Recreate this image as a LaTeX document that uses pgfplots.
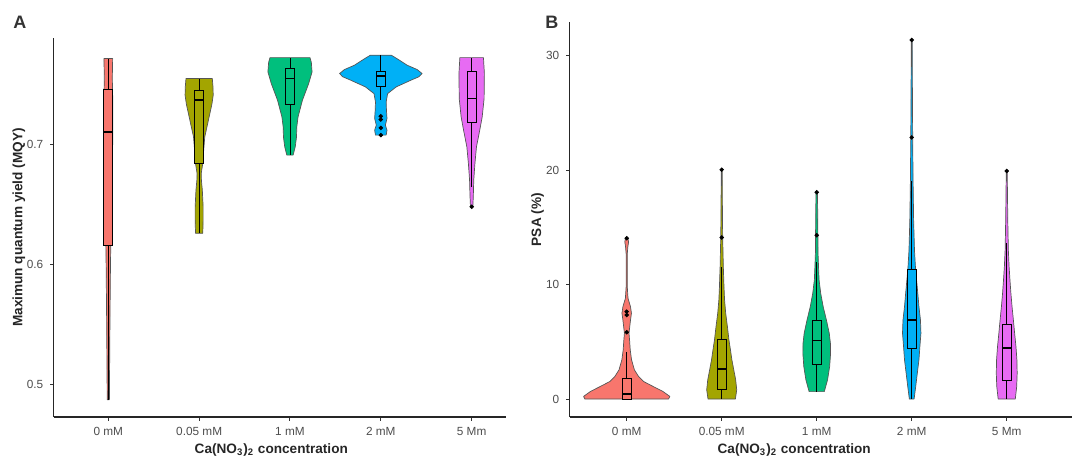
\documentclass[border=0pt]{standalone}
\usepackage{fontspec}
\setmainfont{Liberation Sans}
\usepackage{pgfplots}
\usepackage{pgfplotstable}
\pgfplotsset{compat=1.18}
\usepgfplotslibrary{statistics}

\definecolor{c1}{HTML}{F8766D}
\definecolor{c2}{HTML}{A3A500}
\definecolor{c3}{HTML}{00BF7D}
\definecolor{c4}{HTML}{00B0F6}
\definecolor{c5}{HTML}{E76BF3}
\definecolor{tickgray}{HTML}{4D4D4D}
\definecolor{vline}{HTML}{555555}

% violin outlines, right side up then left side down: y value, offset from centre
\pgfplotstableread{
y d
0.4876 0.012
0.52 0.015
0.56 0.019
0.60 0.024
0.62 0.028
0.65 0.034
0.68 0.042
0.70 0.048
0.72 0.050
0.74 0.048
0.755 0.044
0.7711 0.048
0.7711 -0.048
0.755 -0.044
0.74 -0.048
0.72 -0.050
0.70 -0.048
0.68 -0.042
0.65 -0.034
0.62 -0.028
0.60 -0.024
0.56 -0.019
0.52 -0.015
0.4876 -0.012
0.4876 0.012
}\vAa
\pgfplotstableread{
y d
0.6259 0.040
0.6369 0.044
0.648 0.044
0.6618 0.035
0.6700 0.025
0.6757 0.023
0.684 0.040
0.695 0.050
0.7061 0.062
0.715 0.088
0.7227 0.110
0.733 0.140
0.7407 0.155
0.748 0.152
0.7545 0.145
0.7545 -0.145
0.748 -0.152
0.7407 -0.155
0.733 -0.140
0.7227 -0.110
0.715 -0.088
0.7061 -0.062
0.695 -0.050
0.684 -0.040
0.6757 -0.023
0.6700 -0.025
0.6618 -0.035
0.648 -0.044
0.6369 -0.044
0.6259 -0.040
0.6259 0.040
}\vAb
\pgfplotstableread{
y d
0.6909 0.035
0.6940 0.045
0.6978 0.058
0.7061 0.072
0.7144 0.075
0.7227 0.089
0.7365 0.137
0.7504 0.206
0.7600 0.243
0.7680 0.235
0.7719 0.220
0.7719 -0.220
0.7680 -0.235
0.7600 -0.243
0.7504 -0.206
0.7365 -0.137
0.7227 -0.089
0.7144 -0.075
0.7061 -0.072
0.6978 -0.058
0.6940 -0.045
0.6909 -0.035
0.6909 0.035
}\vAc
\pgfplotstableread{
y d
0.7075 0.059
0.7116 0.068
0.7158 0.050
0.7213 0.068
0.7282 0.062
0.7351 0.059
0.7420 0.075
0.7476 0.170
0.7531 0.330
0.7560 0.420
0.7587 0.454
0.7620 0.400
0.7656 0.290
0.7700 0.200
0.7739 0.116
0.7739 -0.116
0.7700 -0.200
0.7656 -0.290
0.7620 -0.400
0.7587 -0.454
0.7560 -0.420
0.7531 -0.330
0.7476 -0.170
0.7420 -0.075
0.7351 -0.059
0.7282 -0.062
0.7213 -0.068
0.7158 -0.050
0.7116 -0.068
0.7075 -0.059
0.7075 0.059
}\vAd
\pgfplotstableread{
y d
0.648 0.013
0.6563 0.018
0.6701 0.023
0.684 0.036
0.6978 0.053
0.7116 0.089
0.7227 0.116
0.7379 0.137
0.7587 0.140
0.7719 0.130
0.7719 -0.130
0.7587 -0.140
0.7379 -0.137
0.7227 -0.116
0.7116 -0.089
0.6978 -0.053
0.684 -0.036
0.6701 -0.023
0.6563 -0.018
0.648 -0.013
0.648 0.013
}\vAe

\pgfplotstableread{
y d
0.00 0.440
0.23 0.454
0.67 0.380
1.10 0.278
1.54 0.176
1.97 0.125
2.55 0.081
3.43 0.051
4.30 0.037
5.17 0.030
5.75 0.024
6.90 0.040
7.50 0.050
8.07 0.040
8.80 0.014
9.80 0.006
12.70 0.006
13.30 0.012
13.74 0.020
14.06 0.012
14.06 -0.012
13.74 -0.020
13.30 -0.012
12.70 -0.006
9.80 -0.006
8.80 -0.014
8.07 -0.040
7.50 -0.050
6.90 -0.040
5.75 -0.024
5.17 -0.030
4.30 -0.037
3.43 -0.051
2.55 -0.081
1.97 -0.125
1.54 -0.176
1.10 -0.278
0.67 -0.380
0.23 -0.454
0.00 -0.440
0.00 0.440
}\vBa
\pgfplotstableread{
y d
0.00 0.144
0.81 0.158
1.68 0.147
2.55 0.127
3.43 0.107
4.30 0.092
5.17 0.076
6.33 0.060
7.50 0.042
8.66 0.030
9.82 0.024
11.56 0.017
14.20 0.010
17.10 0.007
20.05 0.005
20.05 -0.005
17.10 -0.007
14.20 -0.010
11.56 -0.017
9.82 -0.024
8.66 -0.030
7.50 -0.042
6.33 -0.060
5.17 -0.076
4.30 -0.092
3.43 -0.107
2.55 -0.127
1.68 -0.147
0.81 -0.158
0.00 -0.144
0.00 0.144
}\vBb
\pgfplotstableread{
y d
0.65 0.080
1.68 0.114
2.84 0.136
4.00 0.146
4.88 0.144
5.75 0.132
6.91 0.102
8.07 0.068
9.24 0.042
10.40 0.025
11.56 0.019
12.73 0.014
15.60 0.011
18.07 0.008
18.07 -0.008
15.60 -0.011
12.73 -0.014
11.56 -0.019
10.40 -0.025
9.24 -0.042
8.07 -0.068
6.91 -0.102
5.75 -0.132
4.88 -0.144
4.00 -0.146
2.84 -0.136
1.68 -0.114
0.65 -0.080
0.65 0.080
}\vBc
\pgfplotstableread{
y d
0.00 0.025
1.10 0.042
2.27 0.059
3.43 0.076
4.59 0.086
5.75 0.097
6.91 0.092
8.07 0.076
9.24 0.064
10.40 0.051
11.56 0.039
13.00 0.029
15.64 0.020
19.10 0.014
22.90 0.010
27.25 0.007
31.39 0.005
31.39 -0.005
27.25 -0.007
22.90 -0.010
19.10 -0.014
15.64 -0.020
13.00 -0.029
11.56 -0.039
10.40 -0.051
9.24 -0.064
8.07 -0.076
6.91 -0.092
5.75 -0.097
4.59 -0.086
3.43 -0.076
2.27 -0.059
1.10 -0.042
0.00 -0.025
0.00 0.025
}\vBd
\pgfplotstableread{
y d
0.00 0.090
1.10 0.105
2.27 0.110
3.43 0.107
4.59 0.097
5.75 0.083
6.91 0.070
8.07 0.056
9.24 0.044
10.40 0.034
11.56 0.025
13.00 0.017
15.64 0.011
18.50 0.007
19.93 0.005
19.93 -0.005
18.50 -0.007
15.64 -0.011
13.00 -0.017
11.56 -0.025
10.40 -0.034
9.24 -0.044
8.07 -0.056
6.91 -0.070
5.75 -0.083
4.59 -0.097
3.43 -0.107
2.27 -0.110
1.10 -0.105
0.00 -0.090
0.00 0.090
}\vBe

% #1 position, #2 table, #3 colour
\newcommand\violin[3]{%
  \addplot[fill=#3, draw=vline, line width=0.35pt, line join=round]
    table[x expr={#1+\thisrow{d}}, y=y] {#2};
}
% #1 position, #2..#6 whisker/quartiles, #7 colour
\newcommand\bx[7]{%
  \addplot[boxplot prepared={draw direction=y, draw position=#1, lower whisker=#2,
    lower quartile=#3, median=#4, upper quartile=#5, upper whisker=#6,
    box extend=0.1, whisker extend=0},
    draw=black, line width=0.4pt, fill=#7] coordinates {};
}

\pgfplotsset{
  boxplot/every median/.style={line width=0.9pt},
  vio/.style={
    scale only axis,
    axis x line*=bottom, axis y line*=left,
    axis line style={line width=0.55pt, black!85},
    tick align=outside, major tick length=1.75pt,
    tick style={line width=0.5pt, black!80},
    xtick={1,2,3,4,5},
    xticklabels={0 mM,0.05 mM,1 mM,2 mM,5 Mm},
    ticklabel style={font=\fontsize{5.9}{6.5}\selectfont, text=tickgray},
    /pgf/number format/assume math mode=true,
    label style={font=\bfseries\fontsize{6.8}{7.5}\selectfont, text=black!85},
    xlabel={Ca(NO\textsubscript{3})\textsubscript{2} concentration},
  },
}

\begin{document}
\begin{tikzpicture}
\path[use as bounding box] (0,0) rectangle (536pt,228.5pt);

\node[anchor=base west, inner sep=0, text=black!80, font=\bfseries\fontsize{9}{10}\selectfont] at (6.5pt,214.5pt) {A};
\node[anchor=base west, inner sep=0, text=black!80, font=\bfseries\fontsize{9}{10}\selectfont] at (272.5pt,214.5pt) {B};

\begin{axis}[vio,
  at={(26.9pt,20pt)}, anchor=south west,
  width=226.1pt, height=189.5pt,
  xmin=0.4, xmax=5.378, ymin=0.4733, ymax=0.7882,
  ytick={0.5,0.6,0.7}, yticklabels={0.5,0.6,0.7},
  ylabel={Maximun quantum yield (MQY)},
  xlabel style={at={(axis description cs:0.481,-0.087)}, anchor=center},
  ylabel style={at={(axis description cs:-0.0774,0.5)}, anchor=center},
]
\violin{1}{\vAa}{c1}
\violin{2}{\vAb}{c2}
\violin{3}{\vAc}{c3}
\violin{4}{\vAd}{c4}
\violin{5}{\vAe}{c5}
\bx{1}{0.4876}{0.6162}{0.7102}{0.7454}{0.7711}{c1}
\bx{2}{0.6259}{0.6840}{0.7365}{0.7448}{0.7545}{c2}
\bx{3}{0.6909}{0.7332}{0.7545}{0.7628}{0.7719}{c3}
\bx{4}{0.7370}{0.7476}{0.7567}{0.7608}{0.7739}{c4}
\bx{5}{0.6646}{0.7177}{0.7379}{0.7608}{0.7719}{c5}
\addplot[only marks, mark=*, mark size=0.9pt, black] coordinates {
  (4,0.7232) (4,0.7205) (4,0.7135) (4,0.7075) (5,0.6480)
};
\end{axis}

\begin{axis}[vio,
  at={(284.85pt,20pt)}, anchor=south west,
  width=251.15pt, height=197.35pt,
  xmin=0.4, xmax=5.687, ymin=-1.57, ymax=32.93,
  ytick={0,10,20,30},
  ylabel={PSA (\%)},
  xlabel style={at={(axis description cs:0.447,-0.0836)}, anchor=center},
  ylabel style={at={(axis description cs:-0.064,0.5)}, anchor=center},
]
\violin{1}{\vBa}{c1}
\violin{2}{\vBb}{c2}
\violin{3}{\vBc}{c3}
\violin{4}{\vBd}{c4}
\violin{5}{\vBe}{c5}
\bx{1}{0.00}{0.00}{0.46}{1.83}{4.10}{c1}
\bx{2}{0.00}{0.87}{2.61}{5.23}{11.56}{c2}
\bx{3}{0.65}{2.99}{5.11}{6.91}{12.00}{c3}
\bx{4}{0.00}{4.44}{6.91}{11.33}{19.10}{c4}
\bx{5}{0.00}{1.60}{4.44}{6.56}{13.60}{c5}
\addplot[only marks, mark=*, mark size=0.9pt, black] coordinates {
  (1,14.06) (1,7.64) (1,7.35) (1,5.84)
  (2,14.12) (2,20.05)
  (3,14.32) (3,18.07)
  (4,22.87) (4,31.39)
  (5,19.93)
};
\end{axis}
\end{tikzpicture}
\end{document}
